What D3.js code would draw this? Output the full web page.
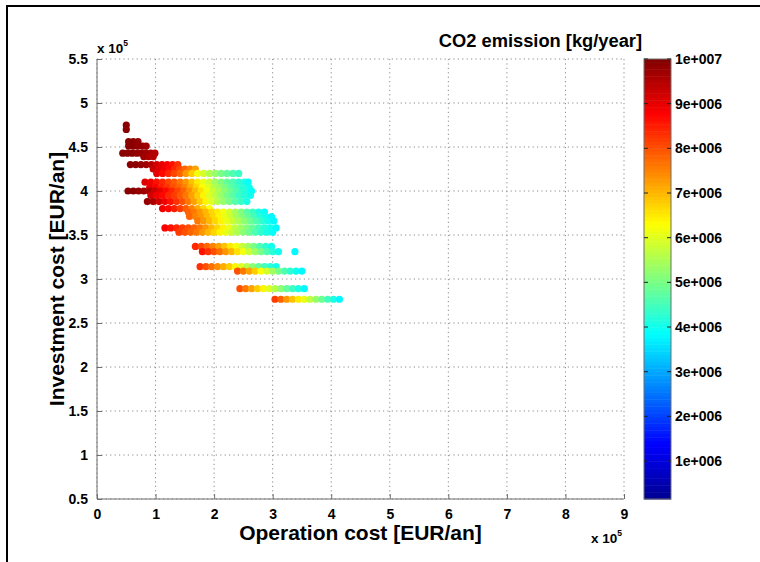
<!DOCTYPE html>
<html>
<head>
<meta charset="utf-8">
<script src="https://cdn.jsdelivr.net/npm/d3@7"></script>
<style>
    body { margin: 0; background: #fff; }
    text { font-family: "Liberation Sans", Arial, sans-serif; font-weight: bold; }
</style>
</head>
<body>
<script>
// Investment cost of each row of solutions [x 1e5 EUR/an]
var investLevels = [4.75, 4.70, 4.56, 4.51, 4.43, 4.39, 4.30, 4.25, 4.20,
    4.10, 4.04, 4.00, 3.95, 3.88, 3.80, 3.76, 3.71, 3.66, 3.58, 3.53,
    3.37, 3.31, 3.14, 3.09, 2.89, 2.77];

// Operation cost of the points in each row [x 1e5 EUR/an]
var opCost = [
    [0.50],
    [0.50],
    [0.54, 0.62, 0.70],
    [0.54, 0.62, 0.70, 0.78, 0.84],
    [0.44, 0.52, 0.60, 0.68, 0.76, 0.84, 0.92, 0.99],
    [0.80, 0.88, 0.96],
    [0.57, 0.66, 0.75, 0.84, 0.93, 1.02, 1.11, 1.20, 1.29, 1.38],
    [0.96, 1.05, 1.14, 1.23, 1.32, 1.41, 1.50, 1.59, 1.68],
    [1.02, 1.12, 1.22, 1.32, 1.42, 1.52, 1.62, 1.72, 1.82, 1.92, 2.02, 2.12,
        2.22, 2.32, 2.42],
    [0.82, 0.92, 1.02, 1.12, 1.22, 1.32, 1.42, 1.52, 1.62, 1.72, 1.82, 1.92,
        2.02, 2.12, 2.22, 2.32, 2.42, 2.52, 2.58],
    [0.90, 1.00, 1.10, 1.20, 1.30, 1.40, 1.50, 1.60, 1.70, 1.80, 1.90, 2.00,
        2.10, 2.20, 2.30, 2.40, 2.50, 2.60],
    [0.53, 0.62, 0.71, 0.80, 0.89, 0.98, 1.08, 1.18, 1.28, 1.38, 1.48, 1.58,
        1.68, 1.78, 1.88, 1.98, 2.08, 2.18, 2.28, 2.38, 2.48, 2.58, 2.64],
    [0.92, 1.02, 1.12, 1.22, 1.32, 1.42, 1.52, 1.62, 1.72, 1.82, 1.92, 2.02,
        2.12, 2.22, 2.32, 2.42, 2.52, 2.62],
    [0.86, 0.96, 1.06, 1.16, 1.26, 1.36, 1.46, 1.56, 1.66, 1.76, 1.86, 1.96,
        2.06, 2.16, 2.26, 2.36, 2.46, 2.56],
    [1.12, 1.22, 1.32, 1.42, 1.52, 1.62, 1.72, 1.82, 1.92],
    [1.56, 1.66, 1.76, 1.86, 1.96, 2.06, 2.16, 2.26, 2.36, 2.46, 2.56, 2.66,
        2.76, 2.86],
    [1.58, 1.68, 1.78, 1.88, 1.98, 2.08, 2.18, 2.28, 2.38, 2.48, 2.58, 2.68,
        2.78, 2.88, 2.98],
    [1.72, 1.82, 1.92, 2.02, 2.12, 2.22, 2.32, 2.42, 2.52, 2.62, 2.72, 2.82,
        2.92, 3.02],
    [1.16, 1.26, 1.36, 1.46, 1.56, 1.66, 1.76, 1.86, 1.96, 2.06, 2.16, 2.26,
        2.36, 2.46, 2.56, 2.66, 2.76, 2.86, 2.96, 3.06],
    [1.40, 1.50, 1.60, 1.70, 1.80, 1.90, 2.00, 2.10, 2.20, 2.30, 2.40, 2.50,
        2.60, 2.70, 2.80, 2.90, 3.00],
    [1.68, 1.78, 1.88, 1.98, 2.08, 2.18, 2.28, 2.38, 2.48, 2.58, 2.68, 2.78,
        2.88, 2.98],
    [1.80, 1.90, 2.00, 2.10, 2.20, 2.30, 2.40, 2.50, 2.60, 2.70, 2.80, 2.90,
        3.00, 3.10, 3.38],
    [1.76, 1.86, 1.96, 2.06, 2.16, 2.26, 2.36, 2.46, 2.56, 2.66, 2.76, 2.86,
        2.96, 3.06],
    [2.40, 2.50, 2.60, 2.70, 2.80, 2.90, 3.00, 3.10, 3.20, 3.30, 3.40, 3.50],
    [2.44, 2.54, 2.64, 2.74, 2.84, 2.94, 3.04, 3.14, 3.24, 3.34, 3.44, 3.54],
    [3.04, 3.14, 3.24, 3.34, 3.44, 3.54, 3.64, 3.74, 3.84, 3.94, 4.04, 4.14]
];

// CO2 emission of the same points [x 1e6 kg/year]
var co2 = [
    [9.9],
    [9.9],
    [9.9, 9.9, 9.8],
    [9.9, 9.9, 9.8, 9.8, 9.7],
    [9.9, 9.9, 9.9, 9.8, 9.8, 9.7, 9.6, 9.5],
    [9.7, 9.6, 9.5],
    [9.9, 9.9, 9.8, 9.7, 9.5, 9.2, 9.0, 8.8, 8.6, 8.3],
    [9.3, 9.1, 8.9, 8.7, 8.4, 8.1, 7.8, 7.5, 7.2],
    [9.0, 8.7, 8.4, 8.1, 7.8, 7.3, 6.8, 6.2, 5.9, 5.6, 5.3, 5.0, 4.8, 4.6,
        4.4],
    [9.1, 8.9, 8.6, 8.4, 8.1, 7.9, 7.6, 7.3, 6.9, 6.5, 6.1, 5.8, 5.4, 5.1,
        4.8, 4.6, 4.3, 4.1, 3.9],
    [9.0, 8.8, 8.5, 8.3, 8.0, 7.8, 7.5, 7.1, 6.7, 6.3, 6.0, 5.6, 5.3, 5.0,
        4.7, 4.4, 4.2, 4.0],
    [9.9, 9.9, 9.8, 9.7, 9.6, 9.3, 9.0, 8.7, 8.4, 8.1, 7.8, 7.4, 7.0, 6.6,
        6.2, 5.8, 5.5, 5.2, 4.9, 4.6, 4.3, 4.1, 3.9],
    [9.2, 8.9, 8.7, 8.4, 8.2, 7.9, 7.6, 7.2, 6.8, 6.4, 6.0, 5.7, 5.3, 5.0,
        4.7, 4.4, 4.2, 4.0],
    [9.8, 9.6, 9.2, 8.9, 8.6, 8.3, 8.0, 7.6, 7.2, 6.8, 6.4, 6.0, 5.6, 5.3,
        5.0, 4.7, 4.4, 4.1],
    [8.9, 8.7, 8.5, 8.2, 7.9, 7.5, 7.1, 6.7, 6.3],
    [7.8, 7.6, 7.3, 7.0, 6.7, 6.5, 6.2, 5.9, 5.5, 5.1, 4.7, 4.4, 4.1, 3.9],
    [7.8, 7.5, 7.3, 7.0, 6.7, 6.4, 6.1, 5.8, 5.4, 5.1, 4.8, 4.5, 4.2, 4.0,
        3.8],
    [7.6, 7.3, 7.0, 6.7, 6.4, 6.1, 5.8, 5.5, 5.2, 4.9, 4.6, 4.3, 4.0, 3.8],
    [8.8, 8.6, 8.4, 8.2, 8.0, 7.8, 7.6, 7.3, 7.0, 6.7, 6.4, 6.1, 5.7, 5.4,
        5.1, 4.8, 4.5, 4.2, 4.0, 3.8],
    [8.2, 8.0, 7.8, 7.6, 7.3, 7.0, 6.7, 6.4, 6.1, 5.8, 5.5, 5.2, 4.9, 4.6,
        4.3, 4.1, 3.9],
    [8.4, 8.1, 7.8, 7.5, 7.2, 6.9, 6.5, 6.2, 5.8, 5.4, 5.0, 4.6, 4.3, 4.0],
    [8.6, 8.3, 8.0, 7.7, 7.3, 7.0, 6.6, 6.2, 5.8, 5.4, 5.0, 4.6, 4.2, 4.0,
        3.8],
    [8.3, 8.0, 7.7, 7.4, 7.1, 6.8, 6.4, 6.0, 5.6, 5.2, 4.8, 4.5, 4.2, 4.0],
    [8.0, 7.6, 7.2, 6.8, 6.3, 5.9, 5.4, 5.0, 4.6, 4.3, 4.0, 3.8],
    [8.0, 7.6, 7.2, 6.8, 6.4, 6.0, 5.6, 5.2, 4.8, 4.4, 4.1, 3.8],
    [8.2, 7.8, 7.3, 6.9, 6.5, 6.1, 5.7, 5.3, 4.9, 4.5, 4.1, 3.8]
];

var xTicks = [0, 1, 2, 3, 4, 5, 6, 7, 8, 9];
var yTicks = [0.5, 1, 1.5, 2, 2.5, 3, 3.5, 4, 4.5, 5, 5.5];
var cTicks = [1, 2, 3, 4, 5, 6, 7, 8, 9, 10];
var cTickLabels = ["1e+006", "2e+006", "3e+006", "4e+006", "5e+006",
    "6e+006", "7e+006", "8e+006", "9e+006", "1e+007"];
var cLimits = [0.15, 10];

// jet colormap
var jetStops = [0, 0.125, 0.375, 0.625, 0.875, 1];
var jetColors = ["#000090", "#0000ff", "#00ffff", "#ffff00", "#ff0000",
    "#800000"];

var margin = {top: 59, right: 136, bottom: 63, left: 97},
    width = 760 - margin.left - margin.right,
    height = 562 - margin.top - margin.bottom;

var svg = d3.select("body").append("svg")
    .attr("width", 760)
    .attr("height", 562);

// figure frame (cut by the window on the right and bottom)
svg.append("rect")
    .attr("x", 7).attr("y", 6)
    .attr("width", 800).attr("height", 600)
    .attr("fill", "none")
    .attr("stroke", "#000")
    .attr("stroke-width", 2);

var g = svg.append("g")
    .attr("transform", "translate(" + margin.left + "," + margin.top + ")");

var xScale = d3.scaleLinear().domain([0, 9]).range([0, width]);
var yScale = d3.scaleLinear().domain([0.5, 5.5]).range([height, 0]);
var color = d3.scaleLinear()
    .domain(jetStops.map(function (p) {
        return cLimits[0] + p * (cLimits[1] - cLimits[0]);
    }))
    .range(jetColors)
    .clamp(true);

// dotted grid
g.selectAll(".xgrid").data(xTicks).enter().append("line")
    .attr("x1", xScale).attr("x2", xScale)
    .attr("y1", 0).attr("y2", height)
    .attr("stroke", "#8a8a8a")
    .attr("stroke-dasharray", "1.2,3.2");
g.selectAll(".ygrid").data(yTicks).enter().append("line")
    .attr("x1", 0).attr("x2", width)
    .attr("y1", yScale).attr("y2", yScale)
    .attr("stroke", "#8a8a8a")
    .attr("stroke-dasharray", "1.2,3.2");

// scatter points, row by row
var points = [];
investLevels.forEach(function (inv, i) {
    opCost[i].forEach(function (op, j) {
        points.push({x: op, y: inv, c: co2[i][j]});
    });
});

g.selectAll("circle")
    .data(points)
    .enter()
    .append("circle")
    .attr("cx", function (d) { return xScale(d.x); })
    .attr("cy", function (d) { return yScale(d.y); })
    .attr("r", 3.6)
    .attr("fill", function (d) { return color(d.c); });

// axes (MATLAB style: inward ticks, no box)
var xAxis = d3.axisBottom(xScale).tickValues(xTicks)
    .tickSize(-5).tickPadding(10).tickFormat(d3.format("d"));
var yAxis = d3.axisLeft(yScale).tickValues(yTicks)
    .tickSize(-5).tickPadding(9).tickFormat(function (d) { return d; });

var gx = g.append("g")
    .attr("transform", "translate(0," + height + ")")
    .call(xAxis);
var gy = g.append("g").call(yAxis);

[gx, gy].forEach(function (ax) {
    ax.select(".domain").attr("stroke", "#6e6e6e");
    ax.selectAll(".tick line").attr("stroke", "#6e6e6e");
    ax.selectAll(".tick text")
        .attr("fill", "#000")
        .attr("font-size", "14px")
        .attr("font-family", "Liberation Sans, Arial, sans-serif")
        .attr("font-weight", "bold");
});
gy.select(".domain").attr("d", "M0," + height + "V0");
gx.select(".domain").attr("d", "M0,0H" + width);

// exponent labels
function expLabel(x, y) {
    var t = svg.append("text")
        .attr("x", x).attr("y", y)
        .attr("font-size", "13.5px");
    t.append("tspan").text("x 10");
    t.append("tspan").attr("dy", -7).attr("font-size", "8.5px").text("5");
}
expLabel(97, 53);
expLabel(591, 543);

// axis titles
svg.append("text")
    .attr("x", margin.left + width / 2)
    .attr("y", 540)
    .attr("text-anchor", "middle")
    .attr("font-size", "21px")
    .text("Operation cost [EUR/an]");

svg.append("text")
    .attr("transform", "translate(64," + (margin.top + height / 2) +
        ") rotate(-90)")
    .attr("text-anchor", "middle")
    .attr("font-size", "21px")
    .text("Investment cost [EUR/an]");

// colorbar
var cbX = 644, cbW = 27;
var cScale = d3.scaleLinear().domain(cLimits).range([height, 0]);
var cb = svg.append("g")
    .attr("transform", "translate(" + cbX + "," + margin.top + ")");

var bands = d3.range(128);
cb.selectAll("rect.band")
    .data(bands)
    .enter()
    .append("rect")
    .attr("class", "band")
    .attr("x", 0)
    .attr("width", cbW)
    .attr("y", function (d) { return height - (d + 1) * height / 128; })
    .attr("height", height / 128 + 0.5)
    .attr("fill", function (d) {
        return color(cLimits[0] + (d + 0.5) / 128 *
            (cLimits[1] - cLimits[0]));
    });

cb.append("rect")
    .attr("width", cbW).attr("height", height)
    .attr("fill", "none")
    .attr("stroke", "#6e6e6e");

cb.selectAll(".ctl").data(cTicks).enter().append("line")
    .attr("x1", 0).attr("x2", 4)
    .attr("y1", cScale).attr("y2", cScale)
    .attr("stroke", "#222");
cb.selectAll(".ctr").data(cTicks).enter().append("line")
    .attr("x1", cbW - 4).attr("x2", cbW)
    .attr("y1", cScale).attr("y2", cScale)
    .attr("stroke", "#222");
cb.selectAll(".clab").data(cTicks).enter().append("text")
    .attr("x", cbW + 4)
    .attr("y", cScale)
    .attr("dy", "0.36em")
    .attr("font-size", "14px")
    .text(function (d, i) { return cTickLabels[i]; });

svg.append("text")
    .attr("x", 642)
    .attr("y", 47)
    .attr("text-anchor", "end")
    .attr("font-size", "18.3px")
    .text("CO2 emission [kg/year]");
</script>
</body>
</html>
